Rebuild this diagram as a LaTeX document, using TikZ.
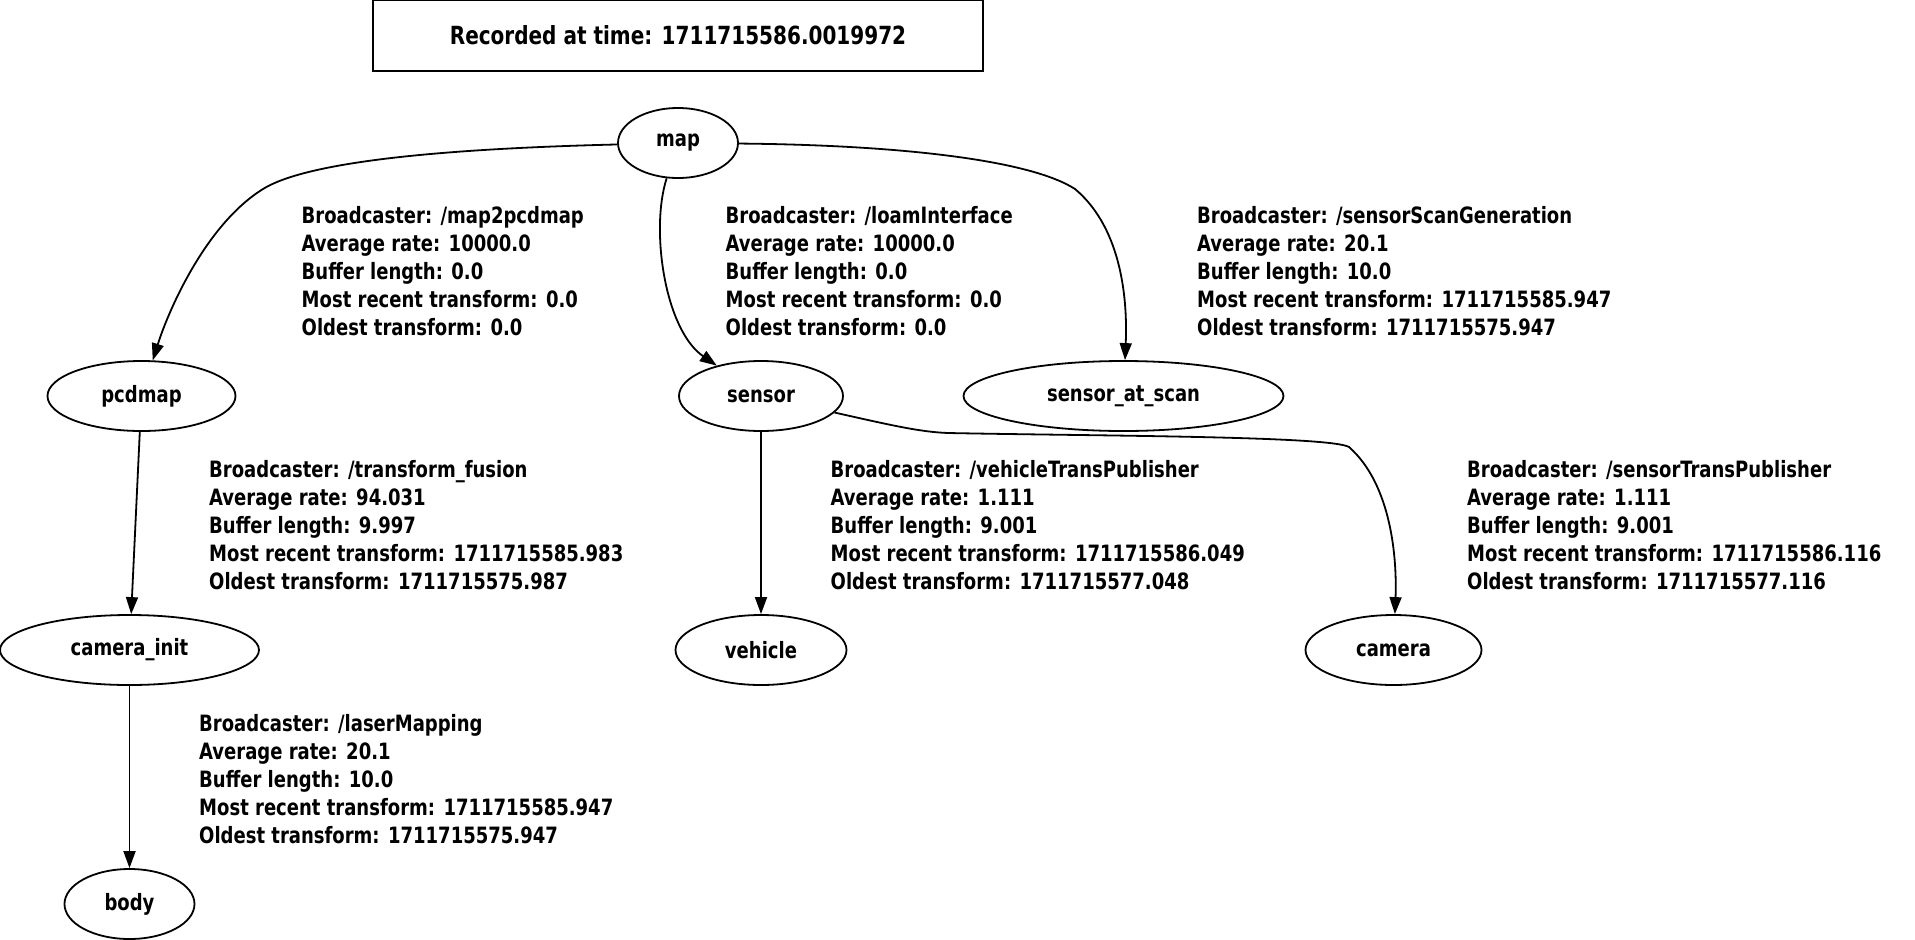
\documentclass[tikz,border=0pt]{standalone}
\usepackage{fontspec}
\setmainfont{DejaVu Sans Condensed}[FakeStretch=0.89]
\usetikzlibrary{arrows.meta,shapes.geometric}
\definecolor{ink}{HTML}{000000}
\tikzset{
  frame/.style={shape=ellipse,draw=ink,line width=1.8pt,minimum height=70pt,inner sep=0pt},
  stats/.style={anchor=north west,align=left,inner sep=0pt},
  edge/.style={->,line width=1.8pt,draw=ink}
}
\begin{document}
\begin{tikzpicture}[x=1pt,y=-1pt,font=\fontsize{22.5}{28}\selectfont\bfseries,text=ink,>={Triangle[length=17pt,width=12pt]}]
  \useasboundingbox (0,0) rectangle (1915,940);
  \node[draw=ink,line width=1.8pt,minimum width=610pt,minimum height=71pt,font=\fontsize{25}{30}\selectfont\bfseries] (stamp) at (678,35.5) {Recorded at time: 1711715586.0019972};
  % frames
  \node[frame,minimum width=120pt] (map) at (678,143) {map};
  \node[frame,minimum width=188pt] (pcdmap) at (141.5,396) {pcdmap};
  \node[frame,minimum width=164pt] (sensor) at (761,396) {sensor};
  \node[frame,minimum width=320pt] (sensor_at_scan) at (1123.5,396) {sensor\_at\_scan};
  \node[frame,minimum width=259pt] (camera_init) at (129.5,650) {camera\_init};
  \node[frame,minimum width=171pt] (vehicle) at (761,650) {vehicle};
  \node[frame,minimum width=176pt] (camera) at (1393.5,650) {camera};
  \node[frame,minimum width=130pt] (body) at (129.5,904) {body};
  % broadcaster info
  \node[stats] (lbl_map2pcdmap) at (301.5,206) {Broadcaster: /map2pcdmap\\Average rate: 10000.0\\Buffer length: 0.0\\Most recent transform: 0.0\\Oldest transform: 0.0};
  \node[stats] (lbl_loam) at (725.5,206) {Broadcaster: /loamInterface\\Average rate: 10000.0\\Buffer length: 0.0\\Most recent transform: 0.0\\Oldest transform: 0.0};
  \node[stats] (lbl_scangen) at (1197,206) {Broadcaster: /sensorScanGeneration\\Average rate: 20.1\\Buffer length: 10.0\\Most recent transform: 1711715585.947\\Oldest transform: 1711715575.947};
  \node[stats] (lbl_fusion) at (209,460) {Broadcaster: /transform\_fusion\\Average rate: 94.031\\Buffer length: 9.997\\Most recent transform: 1711715585.983\\Oldest transform: 1711715575.987};
  \node[stats] (lbl_vehicle) at (830.5,460) {Broadcaster: /vehicleTransPublisher\\Average rate: 1.111\\Buffer length: 9.001\\Most recent transform: 1711715586.049\\Oldest transform: 1711715577.048};
  \node[stats] (lbl_sensor) at (1467,460) {Broadcaster: /sensorTransPublisher\\Average rate: 1.111\\Buffer length: 9.001\\Most recent transform: 1711715586.116\\Oldest transform: 1711715577.116};
  \node[stats] (lbl_laser) at (199,714) {Broadcaster: /laserMapping\\Average rate: 20.1\\Buffer length: 10.0\\Most recent transform: 1711715585.947\\Oldest transform: 1711715575.947};
  % transforms
  \coordinate (bend_pcd) at (263,189);
  \coordinate (bend_scan) at (1075,189);
  \coordinate (bend_cam_a) at (948,433);
  \coordinate (bend_cam_b) at (1349,447);
  \draw[edge] (map) .. controls (430,149) and (305,163) .. (bend_pcd) .. controls (205,225) and (168,312) .. (pcdmap);
  \draw[edge] (map) .. controls (650,230) and (665,330) .. (sensor);
  \draw[edge] (map) .. controls (900,145) and (1030,160) .. (bend_scan) .. controls (1118,225) and (1128,290) .. (sensor_at_scan);
  \draw[edge] (pcdmap) -- (camera_init);
  \draw[edge] (sensor) -- (vehicle);
  \draw[edge] (sensor) .. controls (890,425) and (920,432) .. (bend_cam_a) .. controls (1100,436) and (1330,436) .. (bend_cam_b) .. controls (1392,485) and (1397,560) .. (camera);
  \draw[edge] (camera_init) -- (body);
\end{tikzpicture}
\end{document}
